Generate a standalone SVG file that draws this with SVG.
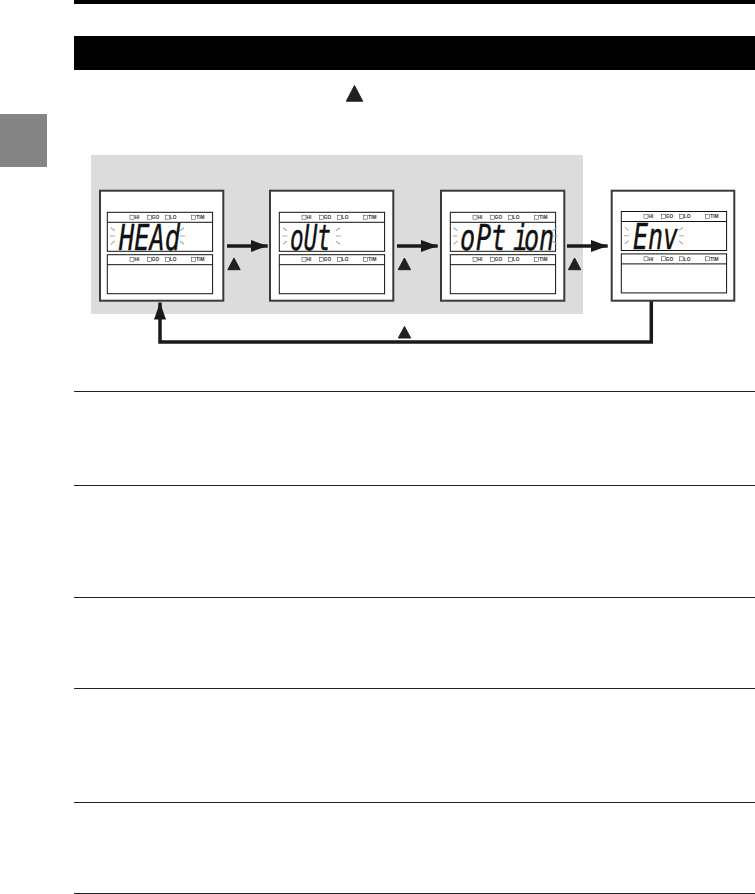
<svg xmlns="http://www.w3.org/2000/svg" width="755" height="894" viewBox="0 0 755 894">
<style>
.frame{fill:#fff;stroke:#3a3a3a;stroke-width:2}
.panel{fill:#fff;stroke:#111;stroke-width:1}
.ind{fill:#fff;stroke:#333;stroke-width:.5}
.lab{font-family:"Liberation Sans",Arial,sans-serif;font-size:4.8px;font-weight:bold;fill:#333}
.seg{font-family:"DejaVu Sans Mono",monospace;font-style:italic;font-size:36px;fill:#111;stroke:#111;stroke-width:.4}
.ray{stroke:#aaa;stroke-width:1.1;fill:none}
.conn{stroke:#1a1a1a;stroke-width:3.5;fill:none}
.tri{fill:#231f20;stroke:#231f20;stroke-width:1;stroke-linejoin:round}
.rule{stroke:#222;stroke-width:1}
</style>
<defs>
<marker id="head" markerUnits="userSpaceOnUse" markerWidth="18" markerHeight="12" refX="17" refY="6" orient="auto"><path d="M0 0L17 6L0 12Z" fill="#1a1a1a"/></marker>
<g id="row">
<rect class="ind" x="22.7" y="2.9" width="4" height="4"/><text class="lab" x="27.3" y="6.8">HI</text>
<rect class="ind" x="40" y="2.9" width="4" height="4"/><text class="lab" x="44.5" y="6.8">GO</text>
<rect class="ind" x="58" y="2.9" width="4" height="4"/><text class="lab" x="62.5" y="6.8">LO</text>
<rect class="ind" x="84.4" y="2.9" width="4" height="4"/><text class="lab" x="89" y="6.8">TIM</text>
</g>
<g id="disp">
<rect class="panel" width="105.3" height="39"/>
<path class="panel" d="M0 10H105.3"/>
<use href="#row"/>
<rect class="panel" y="42.4" width="105.3" height="39"/>
<path class="panel" d="M0 52.4H105.3"/>
<use href="#row" y="42.4"/>
</g>
<g id="raysL" class="ray"><path d="M.7-8.3L4.7-5.3M0 0H5M.7 8.3L4.7 5"/></g>
<g id="raysR" class="ray"><path d="M0-5.3L4-8.3M0 0H5M0 5.3L4 8.3"/></g>
</defs>
<rect width="755" height="894" fill="#fff"/>
<rect id="top-bar" x="74" y="0" width="681" height="4" fill="#000"/>
<rect id="title-band" x="74" y="36" width="681" height="34" fill="#000"/>
<rect id="side-tab" x="0" y="114" width="47" height="53" fill="#848484"/>
<path id="key-symbol" class="tri" d="M354.5 85.5L362.7 101.2H346.3Z"/>
<rect id="group-band" x="91" y="155" width="492" height="159" fill="#dcdcdc"/>

<g id="connectors">
<path class="conn" d="M227 246H267.7" marker-end="url(#head)"/>
<path class="conn" d="M397 246H437.7" marker-end="url(#head)"/>
<path class="conn" d="M567 246H607.7" marker-end="url(#head)"/>
<path class="conn" d="M651.3 301V342H160V302.5" marker-end="url(#head)"/>
<path class="tri" d="M234 258L240.2 269.7H227.8Z"/>
<path class="tri" d="M404.4 258L410.6 269.7H398.2Z"/>
<path class="tri" d="M574.6 258L580.8 269.7H568.4Z"/>
<path class="tri" d="M404.5 326.5L410.7 338H398.3Z"/>
</g>

<g id="node-head">
<rect class="frame" x="100" y="190.7" width="123.3" height="110"/>
<use href="#disp" x="107.3" y="212.3"/>
<text class="seg" x="119" y="250" textLength="61" lengthAdjust="spacingAndGlyphs">HEAd</text>
<use href="#raysL" x="110" y="236"/><use href="#raysR" x="180" y="236"/>
</g>
<g id="node-out">
<rect class="frame" x="270" y="190.7" width="123.3" height="110"/>
<use href="#disp" x="279.3" y="212.3"/>
<text class="seg" x="290" y="250" textLength="41" lengthAdjust="spacingAndGlyphs">oUt</text>
<use href="#raysL" x="282.3" y="236"/><use href="#raysR" x="336" y="236"/>
</g>
<g id="node-option">
<rect class="frame" x="441" y="190.7" width="123.3" height="110"/>
<use href="#disp" x="450.3" y="212.3"/>
<text class="seg" transform="translate(460 250) scale(.7 1)" x="0 22.9 44.3 75.7 91.4 112.9" y="0">oPtion</text>
<use href="#raysL" x="452.7" y="236"/><use href="#raysR" x="552.7" y="236"/>
</g>
<g id="node-env">
<rect class="frame" x="611.7" y="190.7" width="122.6" height="110"/>
<use href="#disp" x="621.3" y="211.5"/>
<text class="seg" x="633" y="249" textLength="45" lengthAdjust="spacingAndGlyphs">Env</text>
<use href="#raysL" x="624" y="235.7"/><use href="#raysR" x="679" y="235.7"/>
</g>

<g id="rules">
<path class="rule" d="M74 391.5H755M74 485.5H755M74 597.5H755M74 688.5H755M74 802.5H755M74 893.5H755"/>
</g>
</svg>
